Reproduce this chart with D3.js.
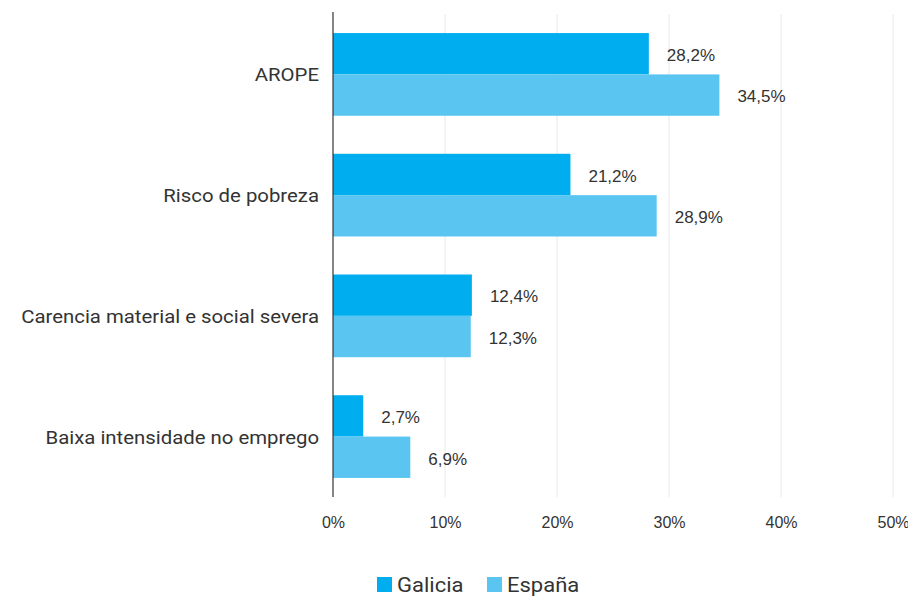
<!DOCTYPE html>
<html>
<head>
<meta charset="utf-8">
<script src="https://cdn.jsdelivr.net/npm/d3@7"></script>
<style>
  body { margin: 0; background: #fff; }
  .cat { font-family: Roboto, sans-serif; font-size: 18.5px; fill: #333; }
  .val { font-family: "Liberation Sans", Arial, sans-serif; font-size: 17px; fill: #333; }
  .tick text { font-family: "Liberation Sans", Arial, sans-serif; font-size: 16px; fill: #333; }
  .legend text { font-family: Roboto, sans-serif; font-size: 20px; fill: #333; }
</style>
</head>
<body>
<svg id="chart"></svg>
<script>
const categories = ["AROPE", "Risco de pobreza", "Carencia material e social severa", "Baixa intensidade no emprego"];
const seriesNames = ["Galicia", "España"];
const galicia = [28.2, 21.2, 12.4, 2.7];
const espana = [34.5, 28.9, 12.3, 6.9];
const xTicks = [0, 10, 20, 30, 40, 50];
const colors = ["#00aeef", "#5bc5f2"];

const width = 908, height = 597;
const margin = { top: 14, right: 15, bottom: 100, left: 333 };
const w = width - margin.left - margin.right;
const h = height - margin.top - margin.bottom;

const svg = d3.select("#chart")
    .attr("width", width)
    .attr("height", height);

const g = svg.append("g")
    .attr("transform", "translate(" + margin.left + "," + margin.top + ")");

const x = d3.scaleLinear().domain([0, 50]).range([0, 560]);
const y = d3.scaleBand().domain(categories).range([0, h]).paddingInner(0.315).paddingOuter(0.158);
const ySub = d3.scaleBand().domain(seriesNames).range([0, y.bandwidth()]);

// grid
g.selectAll(".grid")
    .data(xTicks.slice(1))
    .enter().append("line")
    .attr("x1", d => x(d)).attr("x2", d => x(d))
    .attr("y1", 0).attr("y2", h)
    .attr("stroke", "#e8e8e8").attr("stroke-width", 1);

// x axis ticks
const xAxis = g.append("g")
    .attr("transform", "translate(0," + h + ")")
    .call(d3.axisBottom(x).tickValues(xTicks).tickFormat(d => d + "%").tickSize(0).tickPadding(20));
xAxis.select(".domain").remove();

const rows = categories.map((c, i) => ({ cat: c, vals: [galicia[i], espana[i]] }));

const grp = g.selectAll(".row")
    .data(rows)
    .enter().append("g")
    .attr("transform", d => "translate(0," + y(d.cat) + ")");

grp.selectAll("rect")
    .data(d => d.vals.map((v, j) => ({ name: seriesNames[j], v: v, j: j })))
    .enter().append("rect")
    .attr("x", 0)
    .attr("y", d => ySub(d.name))
    .attr("width", d => x(d.v))
    .attr("height", ySub.bandwidth())
    .attr("fill", d => colors[d.j]);

grp.selectAll(".val")
    .data(d => d.vals.map((v, j) => ({ name: seriesNames[j], v: v, j: j })))
    .enter().append("text")
    .attr("class", "val")
    .attr("x", d => x(d.v) + 18)
    .attr("y", d => ySub(d.name) + ySub.bandwidth() / 2)
    .attr("dy", "0.43em")
    .text(d => d3.format(".1f")(d.v).replace(".", ",") + "%");

// category labels (stretched a bit to mimic the condensed face)
g.selectAll(".cat")
    .data(categories)
    .enter().append("text")
    .attr("class", "cat")
    .attr("transform", d => "translate(-14," + (y(d) + y.bandwidth() / 2) + ") scale(1.1,1)")
    .attr("dy", "0.38em")
    .attr("text-anchor", "end")
    .text(d => d);

// y axis line
g.append("line")
    .attr("x1", 0).attr("x2", 0)
    .attr("y1", -2).attr("y2", h)
    .attr("stroke", "#333").attr("stroke-width", 1.2);

// legend
const legend = svg.append("g").attr("class", "legend");
const legendX = [377, 487];
seriesNames.forEach((s, i) => {
    legend.append("rect")
        .attr("x", legendX[i]).attr("y", 577)
        .attr("width", 15).attr("height", 15)
        .attr("fill", colors[i]);
    legend.append("text")
        .attr("transform", "translate(" + (legendX[i] + 20) + ",584.5) scale(1.1,1)")
        .attr("dy", "0.35em")
        .text(s);
});
</script>
</body>
</html>
